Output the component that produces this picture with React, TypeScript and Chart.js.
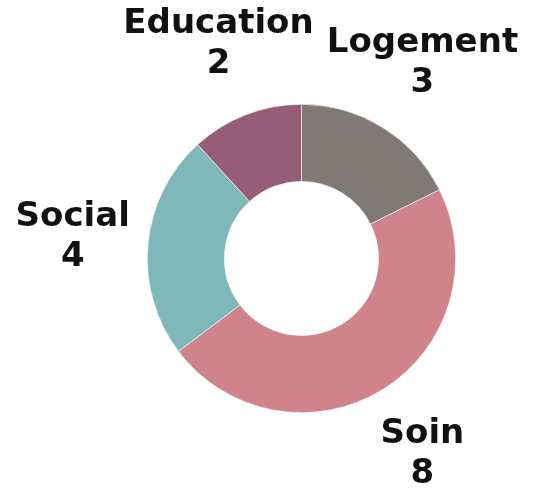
import React, { useEffect, useRef } from "react";
import { Chart, registerables } from "chart.js";

Chart.register(...registerables);

const categories = ["Logement", "Soin", "Social", "Education"];
const values = [3, 8, 4, 2];
const colors = ["#807975", "#D0838A", "#7FB8B8", "#955D78"];

const labelPlugin = {
  id: "outerLabels",
  afterDraw(chart: any) {
    const ctx = chart.ctx;
    const meta = chart.getDatasetMeta(0);
    ctx.save();
    ctx.font = "bold 34px 'DejaVu Sans'";
    ctx.fillStyle = "#111111";
    ctx.textAlign = "center";
    ctx.textBaseline = "middle";
    meta.data.forEach((arc: any, i: number) => {
      const p = arc.getProps(["x", "y", "startAngle", "endAngle", "outerRadius"], true);
      const mid = (p.startAngle + p.endAngle) / 2;
      const R = p.outerRadius * 1.49;
      const x = p.x + Math.cos(mid) * R;
      const y = p.y + Math.sin(mid) * R;
      ctx.fillText(categories[i], x, y - 20);
      ctx.fillText(String(values[i]), x, y + 20);
    });
    ctx.restore();
  },
};

export default function App() {
  const ref = useRef<HTMLCanvasElement>(null);
  useEffect(() => {
    document.body.style.margin = "0";
    const chart = new Chart(ref.current!, {
      type: "doughnut",
      data: {
        labels: categories,
        datasets: [
          {
            data: values,
            backgroundColor: colors,
            borderColor: "#ffffff",
            borderWidth: 0.6,
          },
        ],
      },
      options: {
        animation: false,
        responsive: false,
        cutout: "50%",
        layout: { padding: { top: 104, bottom: 75, left: 147, right: 78 } },
        plugins: { legend: { display: false }, tooltip: { enabled: false } },
      },
      plugins: [labelPlugin],
    });
    return () => chart.destroy();
  }, []);
  return (
    <div style={{ width: 534, height: 488, background: "#fff" }}>
      <canvas ref={ref} width={534} height={488} />
    </div>
  );
}
